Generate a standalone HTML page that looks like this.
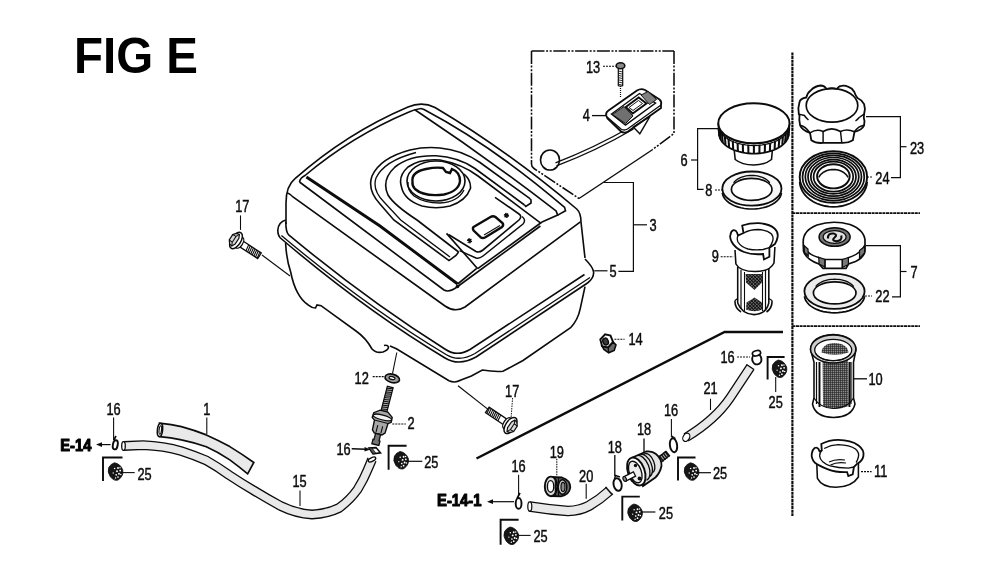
<!DOCTYPE html>
<html><head><meta charset="utf-8"><title>FIG E</title>
<style>
html,body{margin:0;padding:0;background:#fff;}
body{width:1000px;height:579px;overflow:hidden;}
svg{display:block;filter:grayscale(1);font-family:"Liberation Sans",sans-serif;}
</style></head><body>
<svg width="1000" height="579" viewBox="0 0 1000 579">
<rect width="1000" height="579" fill="#fff"/>
<text x="74" y="73" font-size="49.7" font-weight="bold" fill="#000" textLength="124" lengthAdjust="spacingAndGlyphs">FIG E</text>
<path d="M286,224 L286,203 Q286,186 295,178.7 Q346.7,133.1 408,107 Q422,101 435,107.5 Q506,149.5 576.7,209 Q581,213 581,222 L585,258" stroke="#0c0c0c" stroke-width="1.62" fill="none" />
<path d="M299.5,182 Q300,178 305,175.5 Q352,136 409,112 Q414,109.5 421,108.5" stroke="#0c0c0c" stroke-width="1.62" fill="none" />
<path d="M421,108.5 L424,109.5 Q493.4,146.2 564.6,207.4 L565.5,210.8 L557.7,215.1" stroke="#0c0c0c" stroke-width="1.62" fill="none" />
<path d="M414.5,109.5 Q486,157 556,210.8 L557.7,215.1 L542,222" stroke="#0c0c0c" stroke-width="1.62" fill="none" />
<path d="M299.5,182 L444,290 Q449,293 457.7,286.5" stroke="#0c0c0c" stroke-width="1.62" fill="none" />
<path d="M287,193 Q289,193 293,197 L445,306 Q455,313 465,307 L580.4,221.8" stroke="#0c0c0c" stroke-width="1.62" fill="none" />
<path d="M457.7,286.5 L540.4,226" stroke="#0c0c0c" stroke-width="1.62" fill="none" />
<path d="M457.7,284 L476.7,268.4" stroke="#0c0c0c" stroke-width="1.62" fill="none" />
<circle cx="457.5" cy="286.5" r="1.8" fill="#0c0c0c"/>
<path d="M306.4,177 L380,226 L457.7,284" stroke="#0c0c0c" stroke-width="2.88" fill="none" />
<path d="M530,198.7 L480,162.5 Q462,150 440,148 Q425,146.5 410,150 Q380,158 372,176 Q367,190 380,204 L393.8,220 L449,260.6 L456,255.4 L458.6,252" stroke="#0c0c0c" stroke-width="1.62" fill="none" />
<path d="M416,152.5 Q384,161 376,178 Q372,190 384,202 L400.7,220 L450,257" stroke="#0c0c0c" stroke-width="1.32" fill="none" />
<path d="M524.5,205 L475,168.5 Q458,157 436,155.8 Q410,155 395,167 Q381,180 388,195 Q394,205 417,220 L458.6,252" stroke="#0c0c0c" stroke-width="1.62" fill="none" />
<path d="M540.4,222.9 L478,176 Q462,164 440,160 Q420,158.5 408,167 Q398,176 401.4,186.6 Q404,200 422,206 Q436,209.5 450,206 Q466,201 470.5,188.3 Q471,180 464,174" stroke="#0c0c0c" stroke-width="1.62" fill="none" />
<path d="M530,198.7 L531,200 L531,203 L525.8,206.5 L524.5,205" stroke="#0c0c0c" stroke-width="1.62" fill="none" />
<ellipse cx="436" cy="181" rx="29" ry="20" stroke="#0c0c0c" stroke-width="1.62" fill="none" />
<path d="M408,182 Q407,190 414,196 Q424,203 440,203 Q458,202 464,190" stroke="#0c0c0c" stroke-width="1.32" fill="none" />
<path d="M412.5,182 Q411,172 426,169 Q436,167 443,168 L446,172 L450,173 L452,169 Q460,172 460,181 Q459,191 444,194.5 Q424,197 415,189 Q412,186 412.5,182 Z" stroke="#0c0c0c" stroke-width="2.40" fill="none" />
<path d="M446.5,233.4 L477.7,268.7" stroke="#0c0c0c" stroke-width="1.62" fill="none" />
<path d="M448.5,234.5 L476,251.5 Q479.3,253 483,250 L519,220 Q522.5,216.5 519,214 L495,197.3" stroke="#0c0c0c" stroke-width="1.62" fill="none" />
<path d="M459.6,250.7 L476,258 Q479.3,259 483,256 L523,224 Q526.5,220 522,216.5" stroke="#0c0c0c" stroke-width="1.44" fill="none" />
<path d="M477.7,268.7 L542,222" stroke="#0c0c0c" stroke-width="1.62" fill="none" />
<path d="M473.5,227 L490.5,217 Q493,215.5 495.5,217 L502.5,223 Q504,225 502,227 L485,237.5 Q482.5,238.8 480.5,237.2 L473.6,230.5 Q472.3,228.5 473.5,227 Z" stroke="#0c0c0c" stroke-width="2.40" fill="none" />
<path d="M484,235 L500,225.5" stroke="#0c0c0c" stroke-width="1.08" fill="none" />
<path d="M467.0,240.1 L472.0,241.5 M468.8,238.3 L470.2,243.3 M471.3,239.0 L467.7,242.6 " stroke="#0c0c0c" stroke-width="1.56" fill="none" />
<circle cx="469.5" cy="240.8" r="1.3" fill="#0c0c0c"/>
<path d="M503.9,214.7 L508.9,216.1 M505.7,212.9 L507.1,217.9 M508.2,213.6 L504.6,217.2 " stroke="#0c0c0c" stroke-width="1.56" fill="none" />
<circle cx="506.4" cy="215.4" r="1.3" fill="#0c0c0c"/>
<path d="M285.8,222 Q285.8,232 288.7,234.9 Q367,300 445.6,349.5 Q457,357 470,349.5 L584.5,274.5" stroke="#0c0c0c" stroke-width="1.62" fill="none" />
<path d="M285.8,220 Q278.5,222 277.8,230 Q277.8,235.5 280.4,238 Q365,310 445,358 Q459,366.5 476,357 L587.5,283 Q594,278 593.6,272 Q593,267 585,259" stroke="#0c0c0c" stroke-width="1.62" fill="none" />
<path d="M281.4,235.5 Q366,306.5 446,354.5 Q459,362.5 475,353.5 L590,277.5" stroke="#0c0c0c" stroke-width="1.32" fill="none" />
<path d="M285.6,243 Q286.5,260 290.7,272 Q293,284 297.6,292.7 Q302,301 308,304.8 Q312,308 315.5,308 L317,305 L321,305.7 L356,331 Q366,338 372,349 Q376,353.5 383,352 Q388.5,350 388.5,347 Q387.5,344.5 384,345.5" stroke="#0c0c0c" stroke-width="1.62" fill="none" />
<path d="M390,346 L396.4,348.7 L449,380.7 Q455,383.5 461,380 L471.4,376 L482.3,370 Q494,372 503,371.3 L523,360.5 L570.6,327.7 Q578,320 580.3,308.4 L585,286.6" stroke="#0c0c0c" stroke-width="1.62" fill="none" />
<line x1="262" y1="255" x2="290" y2="276" stroke="#0c0c0c" stroke-width="1.08" />
<line x1="458" y1="385.8" x2="488.4" y2="409.6" stroke="#0c0c0c" stroke-width="1.20" />
<line x1="396.8" y1="352.5" x2="392.5" y2="373.6" stroke="#0c0c0c" stroke-width="1.08" />
<path d="M531.5,51 L674,51" stroke="#0c0c0c" stroke-width="1.44" fill="none" stroke-dasharray="13 1.6 2 1.6 2 1.6"/>
<path d="M531.5,51 L531.5,164 Q531.5,167 534,168.5 L579,198.5" stroke="#0c0c0c" stroke-width="1.56" fill="none" stroke-dasharray="13 1.6 2 1.6 2 1.6"/>
<path d="M674,51 L674,133.5 L652,150" stroke="#0c0c0c" stroke-width="1.56" fill="none" stroke-dasharray="13 1.6 2 1.6 2 1.6"/>
<path d="M579,198.5 L652,150" stroke="#0c0c0c" stroke-width="1.44" fill="none" />
<ellipse cx="550" cy="160" rx="9.5" ry="10" stroke="#0c0c0c" stroke-width="1.62" fill="none" />
<path d="M556.5,165.8 Q596,151 633.5,129 M555.5,162.8 Q594,148 631.5,126.5" stroke="#0c0c0c" stroke-width="1.44" fill="none" />
<ellipse cx="620.5" cy="65.8" rx="4.3" ry="3.0" stroke="#0c0c0c" stroke-width="1.56" fill="#888" />
<path d="M618.3,69 L618.3,86 M622.7,69 L622.7,86 M618.3,86 L622.7,86" stroke="#0c0c0c" stroke-width="1.20" fill="none" />
<line x1="618.3" y1="71.0" x2="622.7" y2="72.0" stroke="#0c0c0c" stroke-width="0.84" />
<line x1="618.3" y1="73.2" x2="622.7" y2="74.2" stroke="#0c0c0c" stroke-width="0.84" />
<line x1="618.3" y1="75.4" x2="622.7" y2="76.4" stroke="#0c0c0c" stroke-width="0.84" />
<line x1="618.3" y1="77.6" x2="622.7" y2="78.6" stroke="#0c0c0c" stroke-width="0.84" />
<line x1="618.3" y1="79.8" x2="622.7" y2="80.8" stroke="#0c0c0c" stroke-width="0.84" />
<line x1="618.3" y1="82.0" x2="622.7" y2="83.0" stroke="#0c0c0c" stroke-width="0.84" />
<line x1="618.3" y1="84.2" x2="622.7" y2="85.2" stroke="#0c0c0c" stroke-width="0.84" />
<line x1="620.5" y1="86" x2="620.5" y2="98" stroke="#0c0c0c" stroke-width="1.20" stroke-dasharray="1 1"/>
<line x1="603" y1="66.3" x2="615.6" y2="66.3" stroke="#0c0c0c" stroke-width="1.08" stroke-dasharray="2 1"/>
<path d="M606.2,115.5 Q605.5,112.5 608.5,110.5 L637,90.5 Q641,88 645,90 L659.5,99.5 Q662,101.5 661,105 L661,108 L628,131.5 Q624,134 620.5,131 L607.5,118.5 Z" stroke="#0c0c0c" stroke-width="1.80" fill="#fff" />
<path d="M607,117 L621,129 Q624,131 627.5,129 L661,105" stroke="#0c0c0c" stroke-width="1.32" fill="none" />
<path d="M611.5,114 L639.5,93.5 L655.5,103 L625.5,125 Z" stroke="#0c0c0c" stroke-width="1.44" fill="none" />
<path d="M612.5,114.5 L624,106.5 L633,116 L625.5,123.5 Z" stroke="#0c0c0c" stroke-width="0.96" fill="#707070" />
<path d="M641,95 L648,91.5 L656.5,99.5 L649.5,104.5 Z" stroke="#0c0c0c" stroke-width="0.96" fill="#808080" />
<path d="M625.8,107 L638.7,97.5 L646.5,103.5 L632.7,113.5 Z" stroke="#0c0c0c" stroke-width="1.92" fill="#fff" />
<path d="M629,107.5 L638.5,100.5 L642.5,103.5 L633,110.5 Z" stroke="#0c0c0c" stroke-width="0.96" fill="none" />
<path d="M633.2,127 L650,116.3 L639.8,133.8 Z" stroke="#0c0c0c" stroke-width="1.44" fill="none" />
<line x1="592" y1="115.6" x2="606" y2="115.6" stroke="#0c0c0c" stroke-width="1.32" />
<path d="M603.9,182.5 L633.4,182.5 L633.4,271.3 L618.4,271.3" stroke="#0c0c0c" stroke-width="1.20" fill="none" />
<line x1="633.4" y1="224.8" x2="647" y2="224.8" stroke="#0c0c0c" stroke-width="1.20" />
<line x1="594.2" y1="270.8" x2="607.5" y2="270.8" stroke="#0c0c0c" stroke-width="1.20" />
<path d="M613,341.9 L616,345 L614.2,350.4 L608.7,352.8 L603.9,349.4 L602.1,346.1 L608.1,347.4 Z" stroke="#0c0c0c" stroke-width="1.56" fill="#6a6a6a" />
<path d="M600.3,339.5 L605.1,334.4 L610.5,335.6 L613,341.9 L608.1,347.4 L602.1,346.1 Z" stroke="#0c0c0c" stroke-width="1.92" fill="#fff" />
<ellipse cx="605.6" cy="341.6" rx="2.7" ry="3.5" stroke="#0c0c0c" stroke-width="1.44" fill="#3a3a3a" transform="rotate(-20 605.6 341.6)" />
<path d="M608.1,347.4 L608.7,352.8" stroke="#0c0c0c" stroke-width="1.20" fill="none" />
<line x1="614.4" y1="339.3" x2="624.6" y2="339.3" stroke="#0c0c0c" stroke-width="1.08" stroke-dasharray="2 1"/>
<line x1="792.4" y1="52.5" x2="792.4" y2="516" stroke="#0c0c0c" stroke-width="2.16" stroke-dasharray="3 0.6"/>
<line x1="792.4" y1="213.2" x2="920" y2="213.2" stroke="#0c0c0c" stroke-width="1.80" stroke-dasharray="3 0.6"/>
<line x1="792.4" y1="326.2" x2="920" y2="326.2" stroke="#0c0c0c" stroke-width="1.80" stroke-dasharray="3 0.6"/>
<path d="M476.5,458.5 L724.6,332 L783,332" stroke="#0c0c0c" stroke-width="2.40" fill="none" />
<path d="M734.2,150 L735.2,159.5 Q742,165 753.5,165 Q765,165 771.5,159.5 L772.4,150" stroke="#0c0c0c" stroke-width="1.56" fill="#fff" />
<path d="M718.3,123.3 L718.4,125.0 L718.8,126.8 L719.5,128.5 L720.4,130.1 L721.6,131.8 L723.1,133.3 L724.7,134.8 L726.6,136.2 L728.7,137.4 L731.0,138.6 L733.5,139.7 L736.1,140.6 L738.9,141.4 L741.7,142.1 L744.7,142.6 L747.7,143.0 L750.8,143.2 L753.9,143.3 L757.0,143.2 L760.1,143.0 L763.1,142.6 L766.1,142.1 L768.9,141.4 L771.7,140.6 L774.3,139.7 L776.8,138.6 L779.1,137.4 L781.2,136.2 L783.1,134.8 L784.7,133.3 L786.2,131.8 L787.4,130.1 L788.3,128.5 L789.0,126.8 L789.4,125.0 L789.5,123.3 L788.7,133.6 L788.6,135.3 L788.2,137.1 L787.5,138.8 L786.6,140.4 L785.4,142.1 L784.0,143.6 L782.4,145.1 L780.6,146.5 L778.5,147.7 L776.3,148.9 L773.9,150.0 L771.3,150.9 L768.6,151.7 L765.8,152.4 L762.9,152.9 L759.9,153.3 L756.9,153.5 L753.9,153.6 L750.9,153.5 L747.9,153.3 L744.9,152.9 L742.0,152.4 L739.2,151.7 L736.5,150.9 L733.9,150.0 L731.5,148.9 L729.3,147.7 L727.2,146.5 L725.4,145.1 L723.8,143.6 L722.4,142.1 L721.2,140.4 L720.3,138.8 L719.6,137.1 L719.2,135.3 L719.1,133.6 Z" stroke="#0c0c0c" stroke-width="1.80" fill="#fff" />
<line x1="718.6" y1="127.9" x2="719.4" y2="136.1" stroke="#0c0c0c" stroke-width="2.04" />
<line x1="719.9" y1="131.0" x2="720.6" y2="139.2" stroke="#0c0c0c" stroke-width="2.04" />
<line x1="722.0" y1="133.9" x2="722.7" y2="142.1" stroke="#0c0c0c" stroke-width="2.04" />
<line x1="724.9" y1="136.7" x2="725.5" y2="144.9" stroke="#0c0c0c" stroke-width="2.04" />
<line x1="728.5" y1="139.1" x2="729.1" y2="147.3" stroke="#0c0c0c" stroke-width="2.04" />
<line x1="732.8" y1="141.2" x2="733.2" y2="149.4" stroke="#0c0c0c" stroke-width="2.04" />
<line x1="737.6" y1="142.9" x2="737.9" y2="151.1" stroke="#0c0c0c" stroke-width="2.04" />
<line x1="742.8" y1="144.1" x2="743.0" y2="152.3" stroke="#0c0c0c" stroke-width="2.04" />
<line x1="748.3" y1="144.8" x2="748.4" y2="153.0" stroke="#0c0c0c" stroke-width="2.04" />
<line x1="753.9" y1="145.1" x2="753.9" y2="153.3" stroke="#0c0c0c" stroke-width="2.04" />
<line x1="759.5" y1="144.8" x2="759.4" y2="153.0" stroke="#0c0c0c" stroke-width="2.04" />
<line x1="765.0" y1="144.1" x2="764.8" y2="152.3" stroke="#0c0c0c" stroke-width="2.04" />
<line x1="770.2" y1="142.9" x2="769.9" y2="151.1" stroke="#0c0c0c" stroke-width="2.04" />
<line x1="775.0" y1="141.2" x2="774.6" y2="149.4" stroke="#0c0c0c" stroke-width="2.04" />
<line x1="779.3" y1="139.1" x2="778.7" y2="147.3" stroke="#0c0c0c" stroke-width="2.04" />
<line x1="782.9" y1="136.7" x2="782.3" y2="144.9" stroke="#0c0c0c" stroke-width="2.04" />
<line x1="785.8" y1="133.9" x2="785.1" y2="142.1" stroke="#0c0c0c" stroke-width="2.04" />
<line x1="787.9" y1="131.0" x2="787.2" y2="139.2" stroke="#0c0c0c" stroke-width="2.04" />
<line x1="789.2" y1="127.9" x2="788.4" y2="136.1" stroke="#0c0c0c" stroke-width="2.04" />
<path d="M788.9,128.3 L788.0,130.6 L786.7,132.9 L784.9,135.0 L782.7,137.1 L780.1,138.9 L777.1,140.6 L773.7,142.0 L770.1,143.3 L766.3,144.2 L762.2,144.9 L758.1,145.4 L753.9,145.5 L749.7,145.4 L745.6,144.9 L741.5,144.2 L737.7,143.3 L734.1,142.0 L730.7,140.6 L727.7,138.9 L725.1,137.1 L722.9,135.0 L721.1,132.9 L719.8,130.6 L718.9,128.3" stroke="#0c0c0c" stroke-width="1.32" fill="none" />
<ellipse cx="753.9" cy="123.3" rx="35.6" ry="20.0" stroke="#0c0c0c" stroke-width="1.92" fill="#fff" />
<ellipse cx="751.9" cy="188.6" rx="29.6" ry="17.1" stroke="#0c0c0c" stroke-width="1.80" fill="#f7f7f7" />
<path d="M781.5,192.8 L781.0,194.9 L780.1,197.0 L778.8,199.1 L777.0,201.0 L774.8,202.7 L772.3,204.3 L769.4,205.7 L766.3,206.9 L762.9,207.8 L759.3,208.5 L755.6,208.9 L751.9,209.0 L748.2,208.9 L744.5,208.5 L740.9,207.8 L737.5,206.9 L734.4,205.7 L731.5,204.3 L729.0,202.7 L726.8,201.0 L725.0,199.1 L723.7,197.0 L722.8,194.9 L722.3,192.8" stroke="#0c0c0c" stroke-width="1.68" fill="none" />
<ellipse cx="751.7" cy="189.4" rx="20.3" ry="11" stroke="#0c0c0c" stroke-width="1.68" fill="#fff" />
<path d="M733.6,182.9 L734.5,181.8 L735.5,180.8 L736.7,179.8 L738.0,178.9 L739.4,178.1 L741.0,177.4 L742.6,176.8 L744.3,176.3 L746.1,175.9 L747.9,175.6 L749.8,175.5 L751.7,175.4 L753.6,175.5 L755.5,175.6 L757.3,175.9 L759.1,176.3 L760.8,176.8 L762.4,177.4 L764.0,178.1 L765.4,178.9 L766.7,179.8 L767.9,180.8 L768.9,181.8 L769.8,182.9" stroke="#0c0c0c" stroke-width="1.32" fill="none" />
<path d="M718.6,128.7 L697.6,128.7 L697.6,189.4 L703.6,189.4" stroke="#0c0c0c" stroke-width="1.20" fill="none" />
<line x1="691" y1="160" x2="697.6" y2="160" stroke="#0c0c0c" stroke-width="1.20" />
<line x1="715" y1="190" x2="722" y2="190" stroke="#0c0c0c" stroke-width="1.08" stroke-dasharray="2 1"/>
<path d="M799.5,102.3 Q800,98.5 806.3,97.5 Q807.5,92.5 810.7,90.4 Q815,86 820.6,85.5 Q824.5,85.5 826.5,89 Q832,87.3 837,89 Q838.5,86 841.5,85.8 Q845,85 848,86.7 Q852,88 854.2,91.7 Q855.5,95.5 857.5,98 Q862,100 864.1,104.1 Q865.8,109 864.1,114.1 L863.8,117.8 Q865.2,121 864.1,125.3 Q862,130 854.5,131.8 L852.9,140.2 Q848,143.2 841.8,142.9 L823.1,142.9 Q816,143.6 811.3,140.2 L810,132.9 Q802,130 800.1,125.3 Q798.8,120 799.5,115.3 L798.8,114.1 Q797.6,108 799.5,102.3 Z" stroke="#0c0c0c" stroke-width="1.80" fill="#fff" />
<ellipse cx="832" cy="105.4" rx="25.8" ry="16.8" stroke="#0c0c0c" stroke-width="1.68" fill="none" />
<path d="M798.8,114.1 L804.4,115.5 Q806,118 808.5,120 M864.1,114.1 L859.2,117.5 Q857.5,119.5 855.5,121" stroke="#0c0c0c" stroke-width="1.44" fill="none" />
<path d="M800.1,125.3 Q805,126 810,132.9 Q816.5,128.5 823.1,131.5 Q831.8,126.2 840.5,131.5 Q847,128.5 854.5,131.8 Q858.5,126 864.1,125.3" stroke="#0c0c0c" stroke-width="1.56" fill="none" />
<path d="M823.1,131.5 L823.1,142.9 M840.5,131.5 L841.8,142.9" stroke="#0c0c0c" stroke-width="1.44" fill="none" />
<path d="M867.1,181.9 L866.7,185.2 L865.7,188.4 L864.2,191.5 L862.2,194.4 L859.7,197.1 L856.8,199.6 L853.5,201.7 L849.9,203.5 L846.0,204.9 L841.9,206.0 L837.7,206.6 L833.4,206.8 L829.1,206.6 L824.9,206.0 L820.8,204.9 L816.9,203.5 L813.3,201.7 L810.0,199.6 L807.1,197.1 L804.6,194.4 L802.6,191.5 L801.1,188.4 L800.1,185.2 L799.7,181.9" stroke="#0c0c0c" stroke-width="1.80" fill="none" />
<ellipse cx="833.4" cy="177" rx="33.7" ry="25.8" stroke="#0c0c0c" stroke-width="1.92" fill="#fff" />
<ellipse cx="833.4" cy="176.93333333333334" rx="30.9" ry="23.6" stroke="#0c0c0c" stroke-width="1.74" fill="none" />
<ellipse cx="833.4" cy="176.86666666666667" rx="28.1" ry="21.5" stroke="#0c0c0c" stroke-width="1.74" fill="none" />
<ellipse cx="833.4" cy="176.8" rx="25.4" ry="19.3" stroke="#0c0c0c" stroke-width="1.74" fill="none" />
<ellipse cx="833.4" cy="176.73333333333332" rx="22.6" ry="17.1" stroke="#0c0c0c" stroke-width="1.74" fill="none" />
<ellipse cx="833.4" cy="176.66666666666666" rx="19.8" ry="15.0" stroke="#0c0c0c" stroke-width="1.74" fill="none" />
<ellipse cx="833.4" cy="176.3" rx="16.3" ry="12.1" stroke="#0c0c0c" stroke-width="1.92" fill="#fff" />
<path d="M818.7,177.4 L819.4,176.3 L820.1,175.2 L821.0,174.2 L822.1,173.3 L823.2,172.4 L824.5,171.7 L825.8,171.0 L827.2,170.5 L828.7,170.1 L830.2,169.7 L831.8,169.6 L833.4,169.5 L835.0,169.6 L836.6,169.7 L838.1,170.1 L839.6,170.5 L841.0,171.0 L842.3,171.7 L843.6,172.4 L844.7,173.3 L845.8,174.2 L846.7,175.2 L847.4,176.3 L848.1,177.4" stroke="#0c0c0c" stroke-width="1.56" fill="none" />
<path d="M866,116.6 L900.4,116.6 L900.4,177.7 L891,177.7" stroke="#0c0c0c" stroke-width="1.20" fill="none" />
<line x1="900.4" y1="146.7" x2="906.5" y2="146.7" stroke="#0c0c0c" stroke-width="1.20" />
<line x1="867" y1="177" x2="873" y2="177" stroke="#0c0c0c" stroke-width="0.96" stroke-dasharray="2 1"/>
<path d="M803.2,242 Q803,230.5 817,225 Q833,219.8 850,224.5 Q865.5,230.5 865,242 L865,251 Q864,257.5 855.5,261.5 L848.5,264 L846,268.3 L823,268.3 L819,264 Q806,259.5 803.5,251 Z" stroke="#0c0c0c" stroke-width="1.68" fill="#fff" />
<path d="M803.3,245 Q806,254 818.5,257.5 L823,259.5 L846,259.5 L849,257.5 Q861,253.5 864.8,245" stroke="#0c0c0c" stroke-width="1.44" fill="none" />
<path d="M804,245.5 L808,249 L808.3,256 L804.5,252.5 Z" stroke="#0c0c0c" stroke-width="1.20" fill="#777" />
<path d="M818.8,257.2 L825,259.5 L825,267 L819,264 Z" stroke="#0c0c0c" stroke-width="1.20" fill="#777" />
<path d="M842.3,259.5 L848.4,257.5 L848.4,264.5 L842.3,267.5 Z" stroke="#0c0c0c" stroke-width="1.20" fill="#777" />
<path d="M859.5,250.5 L864.8,246.5 L864.5,253 L859.5,258.5 Z" stroke="#0c0c0c" stroke-width="1.20" fill="#777" />
<path d="M825,259.5 L825,268 M842.3,259.5 L842.3,268" stroke="#0c0c0c" stroke-width="1.32" fill="none" />
<ellipse cx="834.6" cy="237" rx="15.5" ry="9.3" stroke="#0c0c0c" stroke-width="1.56" fill="#777" />
<ellipse cx="834.6" cy="237" rx="11.5" ry="6.3" stroke="#0c0c0c" stroke-width="1.20" fill="#e2e2e2" />
<path d="M828,238.5 Q827.5,233 833.5,233.5 Q838,234.5 834.6,237.5 Q831,240.5 836,241.3 Q842.5,241.3 841.3,235.5" stroke="#0c0c0c" stroke-width="2.16" fill="none" />
<ellipse cx="834.5" cy="291.3" rx="30.1" ry="17.5" stroke="#0c0c0c" stroke-width="1.80" fill="#ececec" />
<path d="M864.6,296.2 L864.1,298.4 L863.2,300.6 L861.8,302.6 L860.0,304.6 L857.8,306.4 L855.2,308.0 L852.3,309.4 L849.1,310.6 L845.7,311.6 L842.0,312.2 L838.3,312.7 L834.5,312.8 L830.7,312.7 L827.0,312.2 L823.3,311.6 L819.9,310.6 L816.7,309.4 L813.8,308.0 L811.2,306.4 L809.0,304.6 L807.2,302.6 L805.8,300.6 L804.9,298.4 L804.4,296.2" stroke="#0c0c0c" stroke-width="1.68" fill="none" />
<ellipse cx="834.7" cy="292.9" rx="21.3" ry="11" stroke="#0c0c0c" stroke-width="1.68" fill="#fff" />
<path d="M815.7,286.6 L816.6,285.5 L817.7,284.5 L818.9,283.6 L820.3,282.7 L821.8,281.9 L823.4,281.2 L825.1,280.6 L826.9,280.1 L828.8,279.7 L830.8,279.4 L832.7,279.3 L834.7,279.2 L836.7,279.3 L838.6,279.4 L840.6,279.7 L842.5,280.1 L844.3,280.6 L846.0,281.2 L847.6,281.9 L849.1,282.7 L850.5,283.6 L851.7,284.5 L852.8,285.5 L853.7,286.6" stroke="#0c0c0c" stroke-width="1.32" fill="none" />
<path d="M866,245.7 L900.4,245.7 L900.4,296.8 L892,296.8" stroke="#0c0c0c" stroke-width="1.20" fill="none" />
<line x1="900.4" y1="271.5" x2="906.5" y2="271.5" stroke="#0c0c0c" stroke-width="1.20" />
<line x1="865" y1="296" x2="872" y2="296" stroke="#0c0c0c" stroke-width="0.96" stroke-dasharray="2 1"/>
<defs><pattern id="mesh" width="2.4" height="2.4" patternUnits="userSpaceOnUse" patternTransform="rotate(45)"><rect width="2.4" height="2.4" fill="#666"/><path d="M0,0 L2.4,0 M0,0 L0,2.4" stroke="#0a0a0a" stroke-width="1.4"/></pattern><pattern id="mesh2" width="2" height="2" patternUnits="userSpaceOnUse"><rect width="2" height="2" fill="#8a8a8a"/><path d="M0,0 L2,0 M0,0 L0,2" stroke="#111" stroke-width="1.0"/></pattern></defs>
<path d="M737.7,267 L737.7,303 Q742,314.3 754,314.6 Q766,314.3 768.8,303 L768.8,267" stroke="#0c0c0c" stroke-width="1.56" fill="#fff" />
<path d="M735,300.5 Q734.5,308 741,312 M772,300.5 Q772.5,308 766.5,312" stroke="#0c0c0c" stroke-width="1.56" fill="none" />
<path d="M735,300.5 L737.7,298.5 M772,300.5 L768.8,298.5" stroke="#0c0c0c" stroke-width="1.32" fill="none" />
<path d="M741,270 L741,309 M765.5,270 L765.5,309" stroke="#0c0c0c" stroke-width="1.20" fill="none" />
<path d="M744.5,272 L744.5,311 M762.5,272 L762.5,311" stroke="#0c0c0c" stroke-width="1.08" fill="none" />
<path d="M745.5,274 L762.5,274 L762,282.5 L754.5,290 L746,282.5 Z" fill="url(#mesh)"/>
<path d="M746,309.5 L746.5,302.5 L754.5,297.5 L762,302.5 L762.5,309.5 Q754.5,313 746,309.5 Z" fill="url(#mesh)"/>
<path d="M735,250 L735.9,264 Q740,271.5 755,271.5 Q770,271.5 774,263 L774.9,247" stroke="#0c0c0c" stroke-width="1.56" fill="#fff" />
<path d="M742.2,225.5 Q750,223 758.6,223.2 Q769,223.8 774.5,228.5 Q778.5,232 777.6,237 Q777,241 774.9,244 L769.4,247.7 L769.4,256.7 L764,259.5 L763.1,254 Q752,255 744,252 Q735,248.5 731.5,241.5 Q729.5,237 730.4,235 Q731,231 733.5,230.2 Q736,230 737,232.5 L738,235.5 L743.5,233 Z" stroke="#0c0c0c" stroke-width="1.80" fill="#fff" />
<path d="M743.5,233 Q750,229.5 758,229.5 Q767,230 771.5,234 Q774,237.5 772.5,241.5 Q771.5,244.5 769.4,247.7" stroke="#0c0c0c" stroke-width="1.32" fill="none" />
<path d="M738,235.5 Q736.5,238.5 738,242 Q741,247 748,249 Q755,250.5 763.1,249.5 L769.4,247.7" stroke="#0c0c0c" stroke-width="1.32" fill="none" />
<line x1="720.7" y1="256.7" x2="733.2" y2="256.7" stroke="#0c0c0c" stroke-width="1.08" stroke-dasharray="2 1"/>
<path d="M810.6,350 Q811,336 833.2,334.5 Q855,336 855.9,350 L853.5,362 L853.5,398 L855,404 Q852,417 833.5,417.5 Q815,417 812.5,404 L814,398 L814,362 Z" stroke="#0c0c0c" stroke-width="1.56" fill="#fff" />
<path d="M822.5,352 L848,352 L848.5,406 Q835.5,412 823,406 Z" fill="url(#mesh2)"/>
<ellipse cx="833.2" cy="349" rx="22.7" ry="14" stroke="#0c0c0c" stroke-width="1.56" fill="#cfcfcf" />
<ellipse cx="833.2" cy="350" rx="18.5" ry="10.6" stroke="#0c0c0c" stroke-width="1.32" fill="#fff" />
<path d="M821.5,352.5 Q822,343.5 834.5,343 Q847.5,343.5 848.5,352.5 Q835,357 821.5,352.5 Z" fill="url(#mesh2)"/>
<path d="M850.6,353.6 L849.9,354.6 L848.9,355.6 L847.9,356.5 L846.7,357.3 L845.3,358.0 L843.8,358.7 L842.2,359.3 L840.5,359.7 L838.8,360.1 L836.9,360.4 L835.1,360.5 L833.2,360.6 L831.3,360.5 L829.5,360.4 L827.6,360.1 L825.9,359.7 L824.2,359.3 L822.6,358.7 L821.1,358.0 L819.7,357.3 L818.5,356.5 L817.5,355.6 L816.5,354.6 L815.8,353.6" stroke="#0c0c0c" stroke-width="1.20" fill="none" />
<path d="M816.5,362 L816.5,404 M851,362 L851,404" stroke="#0c0c0c" stroke-width="1.20" fill="none" />
<path d="M819.5,362 L819.5,407 M849.5,362 L849.5,407" stroke="#0c0c0c" stroke-width="1.92" fill="none" />
<path d="M814,398 Q820,408 833.5,408.5 Q848,408 853.5,398" stroke="#0c0c0c" stroke-width="1.20" fill="none" />
<line x1="853.5" y1="378.8" x2="867" y2="378.8" stroke="#0c0c0c" stroke-width="1.32" />
<path d="M816.8,464 L817.4,478.3 Q822,487.2 836,487.2 Q852,487 858.4,477 L858.4,462" stroke="#0c0c0c" stroke-width="1.56" fill="#fff" />
<path d="M821.3,444 Q829,440 838.2,439.9 Q851,440 858.5,445.5 Q864.5,450 863.4,456 Q862.5,461 857.2,463.7 L853.9,467 L852.7,474.3 L848.3,476 L847.1,472.1 Q836,472.5 828,469.3 Q819,466 814.6,462.5 Q811,458 811.8,453.6 Q812.5,449.5 814.6,448 Q817,447 818.5,449 L819.6,451.3 L821.8,450.5 Z" stroke="#0c0c0c" stroke-width="1.80" fill="#fff" />
<path d="M824.1,448.5 Q831,444.8 838.2,444.6 Q850,445 855.5,449 Q859.5,452.5 858.4,457 Q857.5,460.5 856.1,462.5" stroke="#0c0c0c" stroke-width="1.32" fill="none" />
<path d="M821.8,450.5 Q819.5,453 819.6,455.8 Q820,459 822.4,461.4 Q826,464.5 830.3,465.9 Q838,468 848.3,468.2 L853.9,467" stroke="#0c0c0c" stroke-width="1.32" fill="none" />
<path d="M829,462 Q836,458.5 845,460 M830.5,465 Q837,461.5 846,463" stroke="#0c0c0c" stroke-width="1.20" fill="none" />
<line x1="861" y1="471.6" x2="871.6" y2="471.6" stroke="#0c0c0c" stroke-width="1.08" stroke-dasharray="2 1"/>
<path d="M159.5,423.2 Q172,424.5 181.4,426.6 Q194,430 206.3,434.9 Q218,440 229.8,446.6 Q242,454 253.8,462.5 L247.7,473.8 Q238,466 229.8,459.9 Q218,452 206.3,446.8 Q194,442.5 181.4,439.9 Q171,437.5 159.5,436.6 Z" stroke="#0c0c0c" stroke-width="1.68" fill="#e9e9e9" />
<ellipse cx="160.0" cy="430" rx="2.6" ry="6.6" stroke="#0c0c0c" stroke-width="1.56" fill="#fff" transform="rotate(6 160.0 430)" />
<ellipse cx="160.3" cy="430" rx="1.2" ry="4.2" stroke="#0c0c0c" stroke-width="1.08" fill="none" transform="rotate(6 160.3 430)" />
<path d="M123.5,446 L143,445.2 Q164,446 181.4,451.1 Q195,455.5 206.3,460.4 Q218,467 229,475 Q241,483 253,490 Q266,498 280.7,506 Q296,513.5 312,514.5 Q328,513.5 339,508 Q350,500 357.5,489.5 Q364,479 368,469 L372,459.5" stroke="#0c0c0c" stroke-width="9.8" fill="none" stroke-linecap="butt"/>
<path d="M123.5,446 L143,445.2 Q164,446 181.4,451.1 Q195,455.5 206.3,460.4 Q218,467 229,475 Q241,483 253,490 Q266,498 280.7,506 Q296,513.5 312,514.5 Q328,513.5 339,508 Q350,500 357.5,489.5 Q364,479 368,469 L372,459.5" stroke="#e9e9e9" stroke-width="7.2" fill="none" stroke-linecap="butt"/>
<ellipse cx="123.5" cy="446" rx="1.8" ry="4.4" stroke="#0c0c0c" stroke-width="1.32" fill="#fff" />
<ellipse cx="372" cy="459.5" rx="4.0" ry="1.9" stroke="#0c0c0c" stroke-width="1.32" fill="#fff" transform="rotate(-25 372 459.5)" />
<path d="M529.5,506.5 Q550,509.8 568,511 Q580,510.6 589,505.8 Q600,499.5 609.8,490.5" stroke="#0c0c0c" stroke-width="10.5" fill="none" stroke-linecap="butt"/>
<path d="M529.5,506.5 Q550,509.8 568,511 Q580,510.6 589,505.8 Q600,499.5 609.8,490.5" stroke="#e9e9e9" stroke-width="7.9" fill="none" stroke-linecap="butt"/>
<ellipse cx="529.8" cy="506.5" rx="2.0" ry="4.6" stroke="#0c0c0c" stroke-width="1.20" fill="#fff" />
<path d="M605.5,487 L612,494.5" stroke="#0c0c0c" stroke-width="1.32" fill="none" />
<path d="M686,437.5 Q715,420 730,398 L750.5,367" stroke="#0c0c0c" stroke-width="9.6" fill="none" stroke-linecap="butt"/>
<path d="M686,437.5 Q715,420 730,398 L750.5,367" stroke="#e9e9e9" stroke-width="7" fill="none" stroke-linecap="butt"/>
<ellipse cx="686.3" cy="437.3" rx="3.2" ry="4.4" stroke="#0c0c0c" stroke-width="1.20" fill="#fff" transform="rotate(30 686.3 437.3)" />
<path d="M746.5,364.5 L754,369.5" stroke="#0c0c0c" stroke-width="1.32" fill="none" />
<ellipse cx="115.3" cy="444.8" rx="2.4" ry="4.6" stroke="#0c0c0c" stroke-width="1.92" fill="#fff" transform="rotate(10 115.3 444.8)" />
<path d="M113.8,440 L116,436" stroke="#0c0c0c" stroke-width="1.68" fill="none" />
<path d="M369,448 L376,447.6 L380.5,452.8 L373,453.8 Z" stroke="#0c0c0c" stroke-width="1.56" fill="#fff" />
<path d="M369,448 L372,448 L376,453.4 L373,453.8 Z" stroke="#0c0c0c" stroke-width="0.72" fill="#555" />
<ellipse cx="518.6" cy="503.4" rx="2.9" ry="5.4" stroke="#0c0c0c" stroke-width="1.92" fill="#fff" />
<path d="M517.2,498 L520,493" stroke="#0c0c0c" stroke-width="1.68" fill="none" />
<ellipse cx="617.6" cy="484.5" rx="4.0" ry="6.4" stroke="#0c0c0c" stroke-width="1.92" fill="#fff" transform="rotate(-12 617.6 484.5)" />
<path d="M614.5,479 L615.5,475.5 L620,477" stroke="#0c0c0c" stroke-width="1.44" fill="none" />
<ellipse cx="673.5" cy="445.3" rx="3.6" ry="7" stroke="#0c0c0c" stroke-width="1.92" fill="#fff" transform="rotate(-8 673.5 445.3)" />
<path d="M671.5,439.5 L672.5,436.5 L675.5,438.5" stroke="#0c0c0c" stroke-width="1.32" fill="none" />
<ellipse cx="756.8" cy="359.2" rx="4.6" ry="5.2" stroke="#0c0c0c" stroke-width="1.92" fill="#fff" transform="rotate(-10 756.8 359.2)" />
<ellipse cx="756.5" cy="353.2" rx="4.2" ry="2.6" stroke="#0c0c0c" stroke-width="1.68" fill="#fff" transform="rotate(-15 756.5 353.2)" />
<path d="M122.5,457.5 L103,457.5 L103,481.0" stroke="#0c0c0c" stroke-width="1.92" fill="none" />
<path d="M114.39999999999999,462.8 Q120.39999999999999,463.8 122.69999999999999,469.8 Q123.99999999999999,475.8 118.39999999999999,479.8 Q114.39999999999999,481.8 110.39999999999999,476.8 Q106.89999999999999,471.8 108.89999999999999,467.3 Q110.89999999999999,463.8 114.39999999999999,462.8 Z" fill="#151515" stroke="#0c0c0c" stroke-width="0.8"/>
<circle cx="118.0" cy="468.0" r="0.95" fill="#fff"/>
<circle cx="120.2" cy="470.6" r="0.9" fill="#fff"/>
<circle cx="117.0" cy="471.2" r="0.95" fill="#fff"/>
<circle cx="119.0" cy="473.8" r="0.95" fill="#fff"/>
<circle cx="116.2" cy="474.8" r="0.85" fill="#fff"/>
<circle cx="120.8" cy="474.4" r="0.75" fill="#fff"/>
<circle cx="118.0" cy="477.0" r="0.85" fill="#fff"/>
<circle cx="114.6" cy="468.6" r="0.75" fill="#fff"/>
<circle cx="115.6" cy="478.0" r="0.7" fill="#fff"/>
<circle cx="120.0" cy="467.8" r="0.7" fill="#fff"/>
<circle cx="113.2" cy="473.0" r="0.65" fill="#fff"/>
<line x1="121" y1="472.6" x2="134.7" y2="472.6" stroke="#0c0c0c" stroke-width="1.08" />
<path d="M406.6,445.7 L388.6,445.7 L388.6,469.7" stroke="#0c0c0c" stroke-width="1.92" fill="none" />
<path d="M400.0,451.5 Q406.0,452.5 408.3,458.5 Q409.6,464.5 404.0,468.5 Q400.0,470.5 396.0,465.5 Q392.5,460.5 394.5,456.0 Q396.5,452.5 400.0,451.5 Z" fill="#151515" stroke="#0c0c0c" stroke-width="0.8"/>
<circle cx="403.6" cy="456.7" r="0.95" fill="#fff"/>
<circle cx="405.8" cy="459.3" r="0.9" fill="#fff"/>
<circle cx="402.6" cy="459.9" r="0.95" fill="#fff"/>
<circle cx="404.6" cy="462.5" r="0.95" fill="#fff"/>
<circle cx="401.8" cy="463.5" r="0.85" fill="#fff"/>
<circle cx="406.4" cy="463.1" r="0.75" fill="#fff"/>
<circle cx="403.6" cy="465.7" r="0.85" fill="#fff"/>
<circle cx="400.2" cy="457.3" r="0.75" fill="#fff"/>
<circle cx="401.2" cy="466.7" r="0.7" fill="#fff"/>
<circle cx="405.6" cy="456.5" r="0.7" fill="#fff"/>
<circle cx="398.8" cy="461.7" r="0.65" fill="#fff"/>
<line x1="407.9" y1="461.3" x2="422.3" y2="461.3" stroke="#0c0c0c" stroke-width="1.20" />
<path d="M518.6,519.8 L500.6,519.8 L500.6,544.8" stroke="#0c0c0c" stroke-width="1.92" fill="none" />
<path d="M510.1,527.0 Q516.1,528.0 518.4,534.0 Q519.7,540.0 514.1,544.0 Q510.1,546.0 506.1,541.0 Q502.6,536.0 504.6,531.5 Q506.6,528.0 510.1,527.0 Z" fill="#151515" stroke="#0c0c0c" stroke-width="0.8"/>
<circle cx="513.7" cy="532.2" r="0.95" fill="#fff"/>
<circle cx="515.9" cy="534.8" r="0.9" fill="#fff"/>
<circle cx="512.7" cy="535.4" r="0.95" fill="#fff"/>
<circle cx="514.7" cy="538.0" r="0.95" fill="#fff"/>
<circle cx="511.9" cy="539.0" r="0.85" fill="#fff"/>
<circle cx="516.5" cy="538.6" r="0.75" fill="#fff"/>
<circle cx="513.7" cy="541.2" r="0.85" fill="#fff"/>
<circle cx="510.3" cy="532.8" r="0.75" fill="#fff"/>
<circle cx="511.3" cy="542.2" r="0.7" fill="#fff"/>
<circle cx="515.7" cy="532.0" r="0.7" fill="#fff"/>
<circle cx="508.9" cy="537.2" r="0.65" fill="#fff"/>
<line x1="517" y1="535.4" x2="530.6" y2="535.4" stroke="#0c0c0c" stroke-width="1.08" />
<path d="M639.8,496.6 L622.3,496.6 L622.3,520.6" stroke="#0c0c0c" stroke-width="1.92" fill="none" />
<path d="M633.9,504.0 Q639.9,505.0 642.1999999999999,511.0 Q643.5,517.0 637.9,521.0 Q633.9,523.0 629.9,518.0 Q626.4,513.0 628.4,508.5 Q630.4,505.0 633.9,504.0 Z" fill="#151515" stroke="#0c0c0c" stroke-width="0.8"/>
<circle cx="637.5" cy="509.2" r="0.95" fill="#fff"/>
<circle cx="639.7" cy="511.8" r="0.9" fill="#fff"/>
<circle cx="636.5" cy="512.4" r="0.95" fill="#fff"/>
<circle cx="638.5" cy="515.0" r="0.95" fill="#fff"/>
<circle cx="635.7" cy="516.0" r="0.85" fill="#fff"/>
<circle cx="640.3" cy="515.6" r="0.75" fill="#fff"/>
<circle cx="637.5" cy="518.2" r="0.85" fill="#fff"/>
<circle cx="634.1" cy="509.8" r="0.75" fill="#fff"/>
<circle cx="635.1" cy="519.2" r="0.7" fill="#fff"/>
<circle cx="639.5" cy="509.0" r="0.7" fill="#fff"/>
<circle cx="632.7" cy="514.2" r="0.65" fill="#fff"/>
<line x1="641.8" y1="512" x2="655.4" y2="512" stroke="#0c0c0c" stroke-width="1.20" />
<path d="M695.5,457.5 L678,457.5 L678,480.5" stroke="#0c0c0c" stroke-width="1.92" fill="none" />
<path d="M690.4,462.8 Q696.4,463.8 698.6999999999999,469.8 Q700.0,475.8 694.4,479.8 Q690.4,481.8 686.4,476.8 Q682.9,471.8 684.9,467.3 Q686.9,463.8 690.4,462.8 Z" fill="#151515" stroke="#0c0c0c" stroke-width="0.8"/>
<circle cx="694.0" cy="468.0" r="0.95" fill="#fff"/>
<circle cx="696.2" cy="470.6" r="0.9" fill="#fff"/>
<circle cx="693.0" cy="471.2" r="0.95" fill="#fff"/>
<circle cx="695.0" cy="473.8" r="0.95" fill="#fff"/>
<circle cx="692.2" cy="474.8" r="0.85" fill="#fff"/>
<circle cx="696.8" cy="474.4" r="0.75" fill="#fff"/>
<circle cx="694.0" cy="477.0" r="0.85" fill="#fff"/>
<circle cx="690.6" cy="468.6" r="0.75" fill="#fff"/>
<circle cx="691.6" cy="478.0" r="0.7" fill="#fff"/>
<circle cx="696.0" cy="467.8" r="0.7" fill="#fff"/>
<circle cx="689.2" cy="473.0" r="0.65" fill="#fff"/>
<line x1="697.6" y1="472.7" x2="711" y2="472.7" stroke="#0c0c0c" stroke-width="1.20" />
<path d="M784.6,357 L767.6,357 L767.6,379.5" stroke="#0c0c0c" stroke-width="1.92" fill="none" />
<path d="M778.3000000000001,360.0 Q784.3000000000001,361.0 786.6,367.0 Q787.9000000000001,373.0 782.3000000000001,377.0 Q778.3000000000001,379.0 774.3000000000001,374.0 Q770.8000000000001,369.0 772.8000000000001,364.5 Q774.8000000000001,361.0 778.3000000000001,360.0 Z" fill="#151515" stroke="#0c0c0c" stroke-width="0.8"/>
<circle cx="781.9" cy="365.2" r="0.95" fill="#fff"/>
<circle cx="784.1" cy="367.8" r="0.9" fill="#fff"/>
<circle cx="780.9" cy="368.4" r="0.95" fill="#fff"/>
<circle cx="782.9" cy="371.0" r="0.95" fill="#fff"/>
<circle cx="780.1" cy="372.0" r="0.85" fill="#fff"/>
<circle cx="784.7" cy="371.6" r="0.75" fill="#fff"/>
<circle cx="781.9" cy="374.2" r="0.85" fill="#fff"/>
<circle cx="778.5" cy="365.8" r="0.75" fill="#fff"/>
<circle cx="779.5" cy="375.2" r="0.7" fill="#fff"/>
<circle cx="783.9" cy="365.0" r="0.7" fill="#fff"/>
<circle cx="777.1" cy="370.2" r="0.65" fill="#fff"/>
<line x1="775.7" y1="377" x2="775.7" y2="392" stroke="#0c0c0c" stroke-width="1.08" />
<g transform="translate(236 240.5) rotate(33)">
<path d="M5,-3.3 L28,-3.3 L28,3.3 L5,3.3 Z" stroke="#0c0c0c" stroke-width="1.3" fill="#fff"/>
<path d="M13.0,-3.3 L14.0,3.3" stroke="#0c0c0c" stroke-width="1.1"/>
<path d="M14.9,-3.3 L15.9,3.3" stroke="#0c0c0c" stroke-width="1.1"/>
<path d="M16.8,-3.3 L17.8,3.3" stroke="#0c0c0c" stroke-width="1.1"/>
<path d="M18.7,-3.3 L19.7,3.3" stroke="#0c0c0c" stroke-width="1.1"/>
<path d="M20.6,-3.3 L21.6,3.3" stroke="#0c0c0c" stroke-width="1.1"/>
<path d="M22.5,-3.3 L23.5,3.3" stroke="#0c0c0c" stroke-width="1.1"/>
<path d="M24.4,-3.3 L25.4,3.3" stroke="#0c0c0c" stroke-width="1.1"/>
<path d="M26.299999999999997,-3.3 L27.299999999999997,3.3" stroke="#0c0c0c" stroke-width="1.1"/>
<ellipse cx="4" cy="0" rx="3.4" ry="6.2" stroke="#0c0c0c" stroke-width="1.3" fill="#fff"/>
<ellipse cx="0" cy="0" rx="4.8" ry="9.2" stroke="#0c0c0c" stroke-width="1.5" fill="#fff"/>
<path d="M-3.5,-6.2 L-6,-3.2 L-6,3.2 L-3.5,6.2 L-0.5,7 L1.2,3.5 L1.2,-3.5 L-0.5,-7 Z" stroke="#0c0c0c" stroke-width="1.2" fill="#d8d8d8"/>
<path d="M-6,-3.2 L-2.2,-3.5 L-2.2,3.5 L-6,3.2 M-2.2,-3.5 L-0.5,-7 M-2.2,3.5 L-0.5,7" stroke="#0c0c0c" stroke-width="1.0" fill="none"/>
</g>
<line x1="240.5" y1="215.4" x2="240.5" y2="229.9" stroke="#0c0c0c" stroke-width="1.08" />
<g transform="translate(510.5 425.5) rotate(214)">
<path d="M5,-3.3 L28,-3.3 L28,3.3 L5,3.3 Z" stroke="#0c0c0c" stroke-width="1.3" fill="#fff"/>
<path d="M13.0,-3.3 L14.0,3.3" stroke="#0c0c0c" stroke-width="1.1"/>
<path d="M14.9,-3.3 L15.9,3.3" stroke="#0c0c0c" stroke-width="1.1"/>
<path d="M16.8,-3.3 L17.8,3.3" stroke="#0c0c0c" stroke-width="1.1"/>
<path d="M18.7,-3.3 L19.7,3.3" stroke="#0c0c0c" stroke-width="1.1"/>
<path d="M20.6,-3.3 L21.6,3.3" stroke="#0c0c0c" stroke-width="1.1"/>
<path d="M22.5,-3.3 L23.5,3.3" stroke="#0c0c0c" stroke-width="1.1"/>
<path d="M24.4,-3.3 L25.4,3.3" stroke="#0c0c0c" stroke-width="1.1"/>
<path d="M26.299999999999997,-3.3 L27.299999999999997,3.3" stroke="#0c0c0c" stroke-width="1.1"/>
<ellipse cx="4" cy="0" rx="3.4" ry="6.2" stroke="#0c0c0c" stroke-width="1.3" fill="#fff"/>
<ellipse cx="0" cy="0" rx="4.8" ry="9.2" stroke="#0c0c0c" stroke-width="1.5" fill="#fff"/>
<path d="M-3.5,-6.2 L-6,-3.2 L-6,3.2 L-3.5,6.2 L-0.5,7 L1.2,3.5 L1.2,-3.5 L-0.5,-7 Z" stroke="#0c0c0c" stroke-width="1.2" fill="#d8d8d8"/>
<path d="M-6,-3.2 L-2.2,-3.5 L-2.2,3.5 L-6,3.2 M-2.2,-3.5 L-0.5,-7 M-2.2,3.5 L-0.5,7" stroke="#0c0c0c" stroke-width="1.0" fill="none"/>
</g>
<line x1="512.6" y1="398" x2="511" y2="419" stroke="#0c0c0c" stroke-width="0.96" stroke-dasharray="1.5 1"/>
<ellipse cx="392.3" cy="378.4" rx="7.4" ry="4.2" stroke="#0c0c0c" stroke-width="1.68" fill="#9a9a9a" transform="rotate(14 392.3 378.4)" />
<ellipse cx="392.0" cy="378" rx="3.0" ry="1.5" stroke="#0c0c0c" stroke-width="1.20" fill="#fff" transform="rotate(14 392.0 378)" />
<line x1="372.7" y1="376.6" x2="384.7" y2="376.6" stroke="#0c0c0c" stroke-width="1.20" stroke-dasharray="2 1"/>
<g transform="translate(390.5 386) rotate(104.5)">
<path d="M1,-3 L27,-3 L27,3 L1,3 Z" stroke="#0c0c0c" stroke-width="1.2" fill="#b0b0b0"/>
<path d="M2.0,-3 L3.0,3" stroke="#0c0c0c" stroke-width="1.0"/>
<path d="M3.95,-3 L4.95,3" stroke="#0c0c0c" stroke-width="1.0"/>
<path d="M5.9,-3 L6.9,3" stroke="#0c0c0c" stroke-width="1.0"/>
<path d="M7.85,-3 L8.85,3" stroke="#0c0c0c" stroke-width="1.0"/>
<path d="M9.8,-3 L10.8,3" stroke="#0c0c0c" stroke-width="1.0"/>
<path d="M11.75,-3 L12.75,3" stroke="#0c0c0c" stroke-width="1.0"/>
<path d="M13.7,-3 L14.7,3" stroke="#0c0c0c" stroke-width="1.0"/>
<path d="M15.65,-3 L16.65,3" stroke="#0c0c0c" stroke-width="1.0"/>
<path d="M17.6,-3 L18.6,3" stroke="#0c0c0c" stroke-width="1.0"/>
<path d="M19.55,-3 L20.55,3" stroke="#0c0c0c" stroke-width="1.0"/>
<path d="M21.5,-3 L22.5,3" stroke="#0c0c0c" stroke-width="1.0"/>
<path d="M23.45,-3 L24.45,3" stroke="#0c0c0c" stroke-width="1.0"/>
<path d="M25.4,-3 L26.4,3" stroke="#0c0c0c" stroke-width="1.0"/>
<path d="M26,-4 L30,-9.5 L35,-9.8 L37,-7 L47,-6.5 L49.5,-4 L49.5,4 L47,6.5 L37,7 L35,9.8 L30,9.5 L26,4 Z" stroke="#0c0c0c" stroke-width="1.4" fill="#a8a8a8"/>
<ellipse cx="32.5" cy="0" rx="2.4" ry="9.6" stroke="#0c0c0c" stroke-width="1.2" fill="#f2f2f2"/>
<path d="M37,-7 L37,7 M41,-2.5 L48,-2.5 M41,2.5 L48,2.5" stroke="#0c0c0c" stroke-width="1.1" fill="none"/>
<path d="M49.5,-2.6 L56,-2.6 L56,-3.6 L60.5,-3.6 L60.5,3.6 L56,3.6 L56,2.6 L49.5,2.6 Z" stroke="#0c0c0c" stroke-width="1.3" fill="#777"/>
</g>
<line x1="392.3" y1="424" x2="405.8" y2="424" stroke="#0c0c0c" stroke-width="1.20" stroke-dasharray="2 1"/>
<line x1="351.7" y1="448.7" x2="366" y2="449.2" stroke="#0c0c0c" stroke-width="1.44" />
<path d="M370.5,449.6 L364.5,447 L364.5,451.6 Z" fill="#0c0c0c"/>
<path d="M551,476.8 L562,477.5 Q570.3,480 570.3,487.5 Q569.3,494.8 561,496.4 L551,496" stroke="#0c0c0c" stroke-width="1.80" fill="#6e6e6e" />
<ellipse cx="551" cy="486.4" rx="6.2" ry="9.8" stroke="#0c0c0c" stroke-width="1.92" fill="#dcdcdc" />
<ellipse cx="550.6" cy="486.4" rx="3.2" ry="5.8" stroke="#0c0c0c" stroke-width="1.44" fill="#fff" />
<path d="M555.5,477 L555.5,496.2 M558.5,477.3 L558.5,496.4" stroke="#0c0c0c" stroke-width="1.56" fill="none" />
<ellipse cx="562.5" cy="487" rx="4.3" ry="7.4" stroke="#0c0c0c" stroke-width="1.56" fill="#d0d0d0" />
<ellipse cx="563" cy="487" rx="2.0" ry="4.6" stroke="#0c0c0c" stroke-width="1.20" fill="#8a8a8a" />
<line x1="556.8" y1="458.7" x2="556.8" y2="476" stroke="#0c0c0c" stroke-width="1.08" stroke-dasharray="1.5 1"/>
<g transform="translate(657.5 461.5) rotate(-38)">
<path d="M0,-2.8 L13,-2.8 L13,2.8 L0,2.8 Z" stroke="#0c0c0c" stroke-width="1.3" fill="#aaa"/>
<path d="M2.5,-3.6 L2.5,3.6" stroke="#0c0c0c" stroke-width="1.4"/>
<path d="M4.9,-3.6 L4.9,3.6" stroke="#0c0c0c" stroke-width="1.4"/>
<path d="M7.3,-3.6 L7.3,3.6" stroke="#0c0c0c" stroke-width="1.4"/>
<path d="M9.7,-3.6 L9.7,3.6" stroke="#0c0c0c" stroke-width="1.4"/>
<path d="M12.1,-3.6 L12.1,3.6" stroke="#0c0c0c" stroke-width="1.4"/>
</g>
<path d="M632.5,457.5 L646,451.5 Q652,450.5 656,454 Q662,459 661.5,466 Q660,473 655.4,477.5 L643,486 Z" stroke="#0c0c0c" stroke-width="1.80" fill="#e4e4e4" />
<path d="M648.5,453.0 A5.5,10.2 0 0 1 648.5,473.4" transform="rotate(-22 648.5 463.2)" stroke="#0c0c0c" stroke-width="1.3" fill="none"/>
<path d="M645,453.8 A6.5,11.8 0 0 1 645,477.40000000000003" transform="rotate(-22 645 465.6)" stroke="#0c0c0c" stroke-width="1.3" fill="none"/>
<path d="M641.5,454.8 A7.5,13.2 0 0 1 641.5,481.2" transform="rotate(-22 641.5 468)" stroke="#0c0c0c" stroke-width="1.3" fill="none"/>
<ellipse cx="636.3" cy="471.5" rx="8.3" ry="14.6" stroke="#0c0c0c" stroke-width="1.92" fill="#fff" transform="rotate(-20 636.3 471.5)" />
<ellipse cx="635.3" cy="472" rx="6.0" ry="11.2" stroke="#0c0c0c" stroke-width="1.32" fill="#ececec" transform="rotate(-20 635.3 472)" />
<g transform="translate(634.5 474) rotate(153)">
<path d="M0,-2.4 L11,-2.4 L11,2.4 L0,2.4 Z" stroke="#0c0c0c" stroke-width="1.3" fill="#fff"/>
<ellipse cx="11" cy="0" rx="1.6" ry="2.6" stroke="#0c0c0c" stroke-width="1.2" fill="#888"/>
</g>
<circle cx="635.5" cy="465.5" r="1.7" fill="#0c0c0c"/><circle cx="639.5" cy="478.5" r="1.9" fill="#0c0c0c"/><circle cx="632" cy="480.5" r="1.3" fill="#0c0c0c"/>
<line x1="644" y1="438.6" x2="644" y2="455" stroke="#0c0c0c" stroke-width="1.32" />
<line x1="614.8" y1="455" x2="614.8" y2="476" stroke="#0c0c0c" stroke-width="1.32" />
<line x1="113.6" y1="417.6" x2="113.6" y2="440" stroke="#0c0c0c" stroke-width="1.08" />
<line x1="206.8" y1="417.6" x2="206.8" y2="434" stroke="#0c0c0c" stroke-width="1.08" />
<line x1="300" y1="490.6" x2="300" y2="506" stroke="#0c0c0c" stroke-width="1.08" />
<line x1="518.6" y1="474.7" x2="518.6" y2="495.7" stroke="#0c0c0c" stroke-width="1.08" />
<line x1="586.2" y1="483.7" x2="586.2" y2="498.7" stroke="#0c0c0c" stroke-width="1.08" />
<line x1="671.4" y1="419" x2="671.4" y2="437" stroke="#0c0c0c" stroke-width="1.08" />
<line x1="710.5" y1="398.7" x2="710.5" y2="410" stroke="#0c0c0c" stroke-width="1.08" />
<line x1="737" y1="357" x2="750" y2="357" stroke="#0c0c0c" stroke-width="0.96" stroke-dasharray="2 1"/>
<line x1="99" y1="444.6" x2="110.6" y2="444.6" stroke="#0c0c0c" stroke-width="1.20" />
<path d="M96,444.6 L102,442.20000000000005 L102,447.0 Z" fill="#0c0c0c"/>
<line x1="490" y1="501.7" x2="514" y2="501.7" stroke="#0c0c0c" stroke-width="1.20" />
<path d="M487,501.7 L493,499.3 L493,504.09999999999997 Z" fill="#0c0c0c"/>
<text transform="translate(593 73.3) scale(0.8 1)" text-anchor="middle" font-size="16" fill="#0c0c0c" stroke="#0c0c0c" stroke-width="0.45">13</text>
<text transform="translate(586.3 121.4) scale(0.8 1)" text-anchor="middle" font-size="16" fill="#0c0c0c" stroke="#0c0c0c" stroke-width="0.45">4</text>
<text transform="translate(653 231.1) scale(0.8 1)" text-anchor="middle" font-size="16" fill="#0c0c0c" stroke="#0c0c0c" stroke-width="0.45">3</text>
<text transform="translate(613 277.1) scale(0.8 1)" text-anchor="middle" font-size="16" fill="#0c0c0c" stroke="#0c0c0c" stroke-width="0.45">5</text>
<text transform="translate(635.5 345.1) scale(0.8 1)" text-anchor="middle" font-size="16" fill="#0c0c0c" stroke="#0c0c0c" stroke-width="0.45">14</text>
<text transform="translate(242.3 211.5) scale(0.8 1)" text-anchor="middle" font-size="16" fill="#0c0c0c" stroke="#0c0c0c" stroke-width="0.45">17</text>
<text transform="translate(512.2 397.3) scale(0.8 1)" text-anchor="middle" font-size="16" fill="#0c0c0c" stroke="#0c0c0c" stroke-width="0.45">17</text>
<text transform="translate(361.7 383.8) scale(0.8 1)" text-anchor="middle" font-size="16" fill="#0c0c0c" stroke="#0c0c0c" stroke-width="0.45">12</text>
<text transform="translate(411 429.3) scale(0.8 1)" text-anchor="middle" font-size="16" fill="#0c0c0c" stroke="#0c0c0c" stroke-width="0.45">2</text>
<text transform="translate(343.5 455.3) scale(0.8 1)" text-anchor="middle" font-size="16" fill="#0c0c0c" stroke="#0c0c0c" stroke-width="0.45">16</text>
<text transform="translate(431.3 468.1) scale(0.8 1)" text-anchor="middle" font-size="16" fill="#0c0c0c" stroke="#0c0c0c" stroke-width="0.45">25</text>
<text transform="translate(299.5 487.3) scale(0.8 1)" text-anchor="middle" font-size="16" fill="#0c0c0c" stroke="#0c0c0c" stroke-width="0.45">15</text>
<text transform="translate(113.6 415.3) scale(0.8 1)" text-anchor="middle" font-size="16" fill="#0c0c0c" stroke="#0c0c0c" stroke-width="0.45">16</text>
<text transform="translate(206.8 415.3) scale(0.8 1)" text-anchor="middle" font-size="16" fill="#0c0c0c" stroke="#0c0c0c" stroke-width="0.45">1</text>
<text transform="translate(144.6 479.6) scale(0.8 1)" text-anchor="middle" font-size="16" fill="#0c0c0c" stroke="#0c0c0c" stroke-width="0.45">25</text>
<text transform="translate(518.6 472.4) scale(0.8 1)" text-anchor="middle" font-size="16" fill="#0c0c0c" stroke="#0c0c0c" stroke-width="0.45">16</text>
<text transform="translate(540.6 542.1) scale(0.8 1)" text-anchor="middle" font-size="16" fill="#0c0c0c" stroke="#0c0c0c" stroke-width="0.45">25</text>
<text transform="translate(556.8 457.8) scale(0.8 1)" text-anchor="middle" font-size="16" fill="#0c0c0c" stroke="#0c0c0c" stroke-width="0.45">19</text>
<text transform="translate(586.2 481.8) scale(0.8 1)" text-anchor="middle" font-size="16" fill="#0c0c0c" stroke="#0c0c0c" stroke-width="0.45">20</text>
<text transform="translate(614.8 453.4) scale(0.8 1)" text-anchor="middle" font-size="16" fill="#0c0c0c" stroke="#0c0c0c" stroke-width="0.45">18</text>
<text transform="translate(644 435.4) scale(0.8 1)" text-anchor="middle" font-size="16" fill="#0c0c0c" stroke="#0c0c0c" stroke-width="0.45">18</text>
<text transform="translate(665.9 518.7) scale(0.8 1)" text-anchor="middle" font-size="16" fill="#0c0c0c" stroke="#0c0c0c" stroke-width="0.45">25</text>
<text transform="translate(671 415.8) scale(0.8 1)" text-anchor="middle" font-size="16" fill="#0c0c0c" stroke="#0c0c0c" stroke-width="0.45">16</text>
<text transform="translate(720 479.1) scale(0.8 1)" text-anchor="middle" font-size="16" fill="#0c0c0c" stroke="#0c0c0c" stroke-width="0.45">25</text>
<text transform="translate(710.5 394.3) scale(0.8 1)" text-anchor="middle" font-size="16" fill="#0c0c0c" stroke="#0c0c0c" stroke-width="0.45">21</text>
<text transform="translate(727.6 362.8) scale(0.8 1)" text-anchor="middle" font-size="16" fill="#0c0c0c" stroke="#0c0c0c" stroke-width="0.45">16</text>
<text transform="translate(775.7 407.6) scale(0.8 1)" text-anchor="middle" font-size="16" fill="#0c0c0c" stroke="#0c0c0c" stroke-width="0.45">25</text>
<text transform="translate(684 165.8) scale(0.8 1)" text-anchor="middle" font-size="16" fill="#0c0c0c" stroke="#0c0c0c" stroke-width="0.45">6</text>
<text transform="translate(708.7 195.8) scale(0.8 1)" text-anchor="middle" font-size="16" fill="#0c0c0c" stroke="#0c0c0c" stroke-width="0.45">8</text>
<text transform="translate(715.3 262.3) scale(0.8 1)" text-anchor="middle" font-size="16" fill="#0c0c0c" stroke="#0c0c0c" stroke-width="0.45">9</text>
<text transform="translate(917 153.8) scale(0.8 1)" text-anchor="middle" font-size="16" fill="#0c0c0c" stroke="#0c0c0c" stroke-width="0.45">23</text>
<text transform="translate(882.4 183.5) scale(0.8 1)" text-anchor="middle" font-size="16" fill="#0c0c0c" stroke="#0c0c0c" stroke-width="0.45">24</text>
<text transform="translate(914 277.8) scale(0.8 1)" text-anchor="middle" font-size="16" fill="#0c0c0c" stroke="#0c0c0c" stroke-width="0.45">7</text>
<text transform="translate(882.4 302.3) scale(0.8 1)" text-anchor="middle" font-size="16" fill="#0c0c0c" stroke="#0c0c0c" stroke-width="0.45">22</text>
<text transform="translate(875.5 384.6) scale(0.8 1)" text-anchor="middle" font-size="16" fill="#0c0c0c" stroke="#0c0c0c" stroke-width="0.45">10</text>
<text transform="translate(880.7 477.4) scale(0.8 1)" text-anchor="middle" font-size="16" fill="#0c0c0c" stroke="#0c0c0c" stroke-width="0.45">11</text>
<text x="60.3" y="450.6" font-size="17" font-weight="bold" fill="#000" textLength="31" lengthAdjust="spacingAndGlyphs" stroke="#000" stroke-width="1.1" stroke-linejoin="round">E-14</text>
<text x="437" y="506.3" font-size="17" font-weight="bold" fill="#000" textLength="44.5" lengthAdjust="spacingAndGlyphs" stroke="#000" stroke-width="1.1" stroke-linejoin="round">E-14-1</text>
</svg>
</body></html>
